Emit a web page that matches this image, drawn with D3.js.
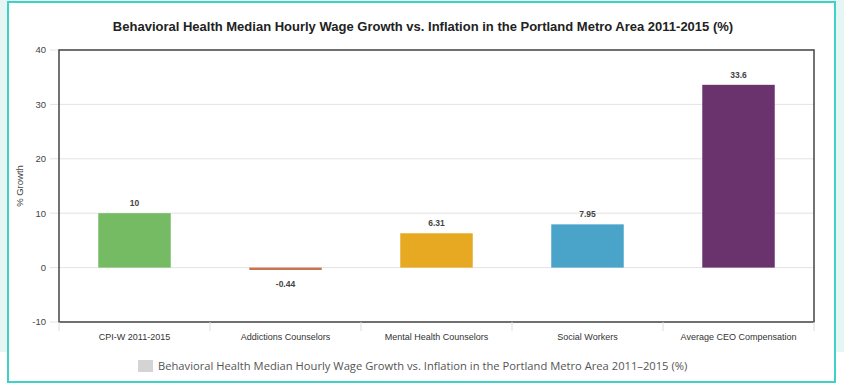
<!DOCTYPE html>
<html>
<head>
<meta charset="utf-8">
<script src="https://cdn.jsdelivr.net/npm/d3@7"></script>
<style>
  body { margin: 0; background: #fff; }
  svg { display: block; }
</style>
</head>
<body>
<div id="chart"></div>
<script>
var categories = ["CPI-W 2011-2015", "Addictions Counselors", "Mental Health Counselors", "Social Workers", "Average CEO Compensation"];
var values = [10, -0.44, 6.31, 7.95, 33.6];
var valueLabels = ["10", "-0.44", "6.31", "7.95", "33.6"];
var yTicks = [-10, 0, 10, 20, 30, 40];
var title = "Behavioral Health Median Hourly Wage Growth vs. Inflation in the Portland Metro Area 2011-2015 (%)";
var legendText = "Behavioral Health Median Hourly Wage Growth vs. Inflation in the Portland Metro Area 2011\u20132015 (%)";

var barColors = ["#74bb64", "#c8744f", "#e6a921", "#4aa4c9", "#6a336d"];

var W = 844, H = 387;
var margin = {top: 50, right: 30, bottom: 65, left: 59};
var width = 814 - margin.left;
var height = 322 - margin.top;

var svg = d3.select("#chart").append("svg")
  .attr("width", W)
  .attr("height", H);

// page background and framed card
svg.append("rect").attr("x", 0).attr("y", 0).attr("width", W).attr("height", 352).attr("fill", "#e5f6f5");
svg.append("rect").attr("x", 8).attr("y", 2).attr("width", 827).attr("height", 380)
  .attr("fill", "#fff").attr("stroke", "#3fd0c6").attr("stroke-width", 2);

var g = svg.append("g")
  .attr("transform", "translate(" + margin.left + "," + margin.top + ")");

var x = d3.scaleBand()
  .domain(categories)
  .range([0, width])
  .paddingInner(0.52)
  .paddingOuter(0.26);

var y = d3.scaleLinear()
  .domain([-10, 40])
  .range([height, 0]);

// gridlines
g.selectAll(".grid")
  .data(yTicks)
  .enter().append("line")
  .attr("x1", -9)
  .attr("x2", width)
  .attr("y1", function(d) { return y(d); })
  .attr("y2", function(d) { return y(d); })
  .attr("stroke", "#e3e3e3")
  .attr("stroke-width", 1);

// y axis labels
g.selectAll(".ytick")
  .data(yTicks)
  .enter().append("text")
  .attr("x", -13)
  .attr("y", function(d) { return y(d); })
  .attr("dy", "0.35em")
  .attr("text-anchor", "end")
  .style("font-family", "Liberation Sans, Arial, sans-serif")
  .style("font-size", "9.5px")
  .style("fill", "#444")
  .text(function(d) { return d; });

// bars
g.selectAll(".bar")
  .data(values)
  .enter().append("rect")
  .attr("class", "bar")
  .attr("x", function(d, i) { return x(categories[i]); })
  .attr("width", x.bandwidth())
  .attr("y", function(d) { return y(Math.max(0, d)); })
  .attr("height", function(d) { return Math.max(1.5, Math.abs(y(d) - y(0))); })
  .attr("fill", function(d, i) { return barColors[i]; });

// value labels
g.selectAll(".vlabel")
  .data(values)
  .enter().append("text")
  .attr("x", function(d, i) { return x(categories[i]) + x.bandwidth() / 2; })
  .attr("y", function(d) { return d >= 0 ? y(d) - 7 : y(d) + 17; })
  .attr("text-anchor", "middle")
  .style("font-family", "Liberation Sans, Arial, sans-serif")
  .style("font-size", "8.5px")
  .style("font-weight", "bold")
  .style("fill", "#444")
  .text(function(d, i) { return valueLabels[i]; });

// plot frame
g.append("rect")
  .attr("x", 0).attr("y", 0)
  .attr("width", width).attr("height", height)
  .attr("fill", "none")
  .attr("stroke", "#444")
  .attr("stroke-width", 1.5);

// x axis
var xAxis = g.append("g")
  .attr("transform", "translate(0," + height + ")")
  .call(d3.axisBottom(x).tickSize(0).tickPadding(12));
xAxis.select(".domain").remove();
xAxis.selectAll("text")
  .style("font-family", "Liberation Sans, Arial, sans-serif")
  .style("font-size", "9px")
  .style("fill", "#333");

// category separators
var seps = categories.map(function(c) { return x(c) - x.step() * x.paddingInner() / 2; });
seps.push(width);
seps[0] = 0;
g.selectAll(".sep")
  .data(seps)
  .enter().append("line")
  .attr("x1", function(d) { return d; })
  .attr("x2", function(d) { return d; })
  .attr("y1", height)
  .attr("y2", height + 9)
  .attr("stroke", "#ddd");

// y axis title
svg.append("text")
  .attr("transform", "translate(23," + (margin.top + height / 2) + ") rotate(-90)")
  .attr("text-anchor", "middle")
  .style("font-family", "Liberation Sans, Arial, sans-serif")
  .style("font-size", "9.5px")
  .style("fill", "#444")
  .text("% Growth");

// title
svg.append("text")
  .attr("x", 423)
  .attr("y", 31)
  .attr("text-anchor", "middle")
  .style("font-family", "Liberation Sans, Arial, sans-serif")
  .style("font-size", "13px")
  .style("font-weight", "bold")
  .style("fill", "#222")
  .text(title);

// legend
var legend = svg.append("g").attr("transform", "translate(138,360)");
legend.append("rect")
  .attr("width", 15).attr("height", 12)
  .attr("fill", "#d4d4d4");
legend.append("text")
  .attr("x", 20)
  .attr("y", 10)
  .style("font-family", "Open Sans, sans-serif")
  .style("font-size", "11.2px")
  .style("fill", "#555")
  .text(legendText);
</script>
</body>
</html>
